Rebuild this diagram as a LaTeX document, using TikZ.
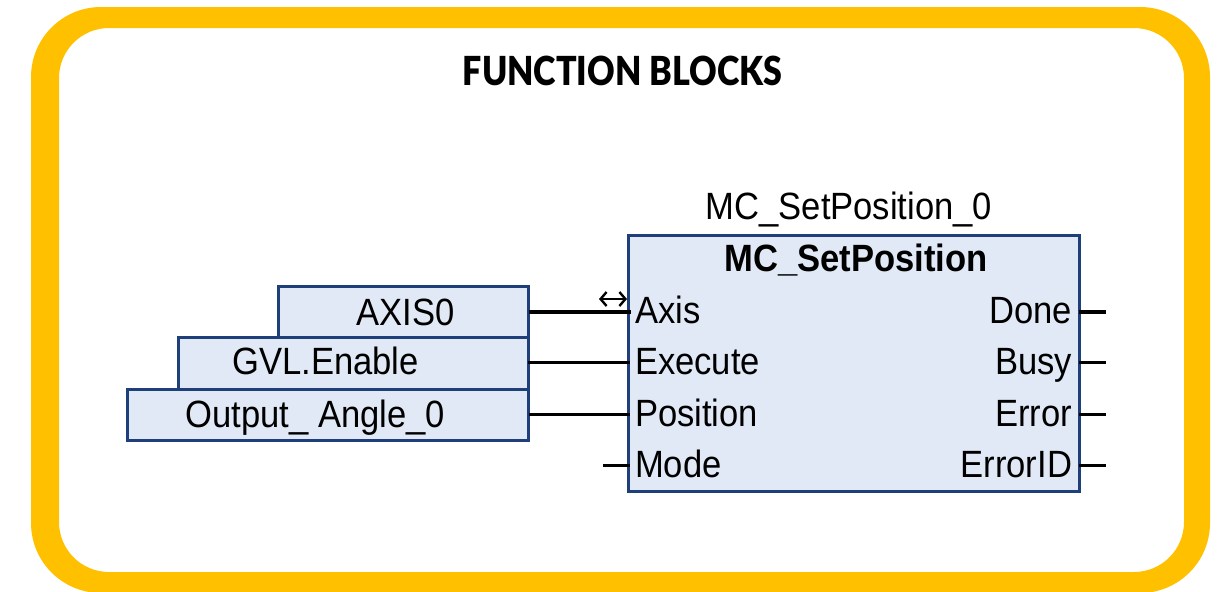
\documentclass[tikz,border=0pt]{standalone}
\usepackage{fontspec}
\setmainfont[FakeStretch=0.91]{Liberation Sans}
\newfontfamily\titlefont[FakeStretch=0.85]{Lato Black}
\usetikzlibrary{arrows.meta}

\definecolor{frameyellow}{HTML}{FFC000}
\definecolor{blockfill}{HTML}{E1E9F6}
\definecolor{blockline}{HTML}{1F3F7A}

\begin{document}
\begin{tikzpicture}[
  x=0.5pt,
  y=-0.5pt,
  every node/.style={font=\fontsize{19}{22}\selectfont, inner sep=0pt, outer sep=0pt, anchor=base},
  block/.style={draw=blockline, fill=blockfill, line width=1.5pt, anchor=north west},
  wire/.style={draw=black, line width=1.5pt},
  thickwire/.style={draw=black, line width=2pt},
  resize/.style={draw=black, line width=1.2pt, {Straight Barb[length=3pt,width=7pt]}-{Straight Barb[length=3pt,width=7pt]}}
]
\useasboundingbox (0,0) rectangle (1222,591);

% Yellow frame
\fill[frameyellow, even odd rule]
  [rounded corners=35pt] (31,7) rectangle (1210,593)
  [rounded corners=25pt] (59,28) rectangle (1184,572);

% Title
\node (title) at (622.5,85) {\titlefont\fontsize{20}{22}\selectfont FUNCTION BLOCKS};

% Variable boxes
\node[block, minimum width=125pt, minimum height=25.5pt] (axisbox) at (278.5,286.5) {};
\node[block, minimum width=175pt, minimum height=26pt] (enablebox) at (178,337.5) {};
\node[block, minimum width=200.5pt, minimum height=25.5pt] (anglebox) at (127.5,389.5) {};
\node (axisname) at (405.5,325) {AXIS0};
\node (enablename) at (325.5,374) {GVL.Enable};
\node (anglename) at (315.5,427) {Output\_ Angle\_0};

% Function block
\node[block, minimum width=225.25pt, minimum height=128.25pt] (fb) at (628.5,235) {};
\node (fbinstance) at (849,219) {MC\_SetPosition\_0};
\node (fbtype) at (856,271) {\bfseries MC\_SetPosition};

% Pins
\foreach \name/\txt/\y in {axis/Axis/323,execute/Execute/374,position/Position/426,mode/Mode/477} {
  \node[anchor=base west] (\name) at (635,\y) {\txt};
}
\foreach \name/\txt/\y in {done/Done/323,busy/Busy/374,error/Error/426,errorid/ErrorID/477} {
  \node[anchor=base east] (\name) at (1072,\y) {\txt};
}

% Free ends of the wires
\coordinate (axispin) at (631,311.5);
\coordinate (executepin) at (630,362.5);
\coordinate (positionpin) at (630,414);
\coordinate (modepin) at (630,465.5);
\coordinate (modeend) at (603,465.5);
\foreach \name/\y in {done/311.5,busy/362.5,error/414,errorid/465.5} {
  \coordinate (\name pin) at (1079,\y);
  \coordinate (\name end) at (1106,\y);
}
\coordinate (resizeleft) at (599,299);
\coordinate (resizeright) at (627,299);

% Wires
\draw[thickwire] (axisbox.east |- axispin) -- (axispin);
\draw[wire] (enablebox.east |- executepin) -- (executepin);
\draw[wire] (anglebox.east |- positionpin) -- (positionpin);
\draw[wire] (modeend) -- (modepin);
\draw[thickwire] (donepin) -- (doneend);
\foreach \name in {busy,error,errorid} {
  \draw[wire] (\name pin) -- (\name end);
}
\draw[resize] (resizeleft) -- (resizeright);
\end{tikzpicture}
\end{document}
